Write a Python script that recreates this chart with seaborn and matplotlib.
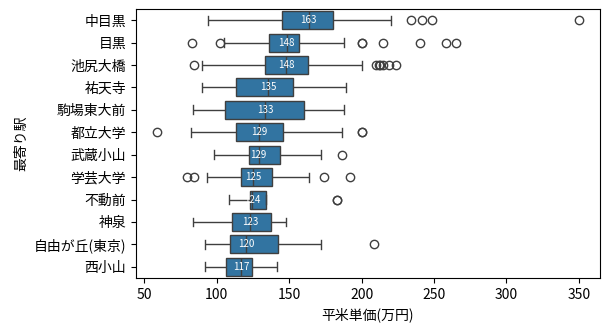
import matplotlib
matplotlib.use("Agg")
import matplotlib.pyplot as plt
import seaborn as sns
import pandas as pd

plt.rcParams['font.family'] = ['Noto Sans CJK JP', 'DejaVu Sans']

stations = ["中目黒", "目黒", "池尻大橋", "祐天寺", "駒場東大前", "都立大学",
            "武蔵小山", "学芸大学", "不動前", "神泉", "自由が丘(東京)", "西小山"]
whisker_lo = [94, 105, 90, 90, 83.4, 82, 97.7, 93.5, 108.7, 83.4, 91.5, 91.5]
q1 = [145, 136, 133, 113.4, 105.3, 113, 122.4, 116.6, 122.6, 110.4, 109.2, 106.5]
median = [163.4, 148.3, 147.9, 135.4, 133.4, 129.4, 128.9, 125.2, 124.2, 123.0, 120.2, 116.8]
q3 = [180, 157, 163.3, 152.3, 159.9, 145.4, 143.3, 138, 133.9, 137.4, 142.2, 124.6]
whisker_hi = [220, 188, 200, 189.2, 187.5, 186.6, 172, 164, 133.9, 147.9, 172, 141.9]
outliers_low = [[], [83, 102], [84], [], [], [58.6], [], [79.3, 84], [], [], [], []]
outliers_high = [[234, 242, 248.6, 350], [200, 200, 214.5, 240.5, 258, 265],
                 [210, 212, 213, 215, 219, 224], [], [], [200, 200.5], [186.4],
                 [173.7, 191.7], [183, 183], [], [208.6], []]

# Build samples whose quartiles / whiskers / outliers reproduce the read values
REP = 20
rows = []
for i, s in enumerate(stations):
    vals = (list(outliers_low[i]) + [whisker_lo[i]] + [q1[i]] * REP + [median[i]] * REP
            + [q3[i]] * REP + [whisker_hi[i]] + list(outliers_high[i]))
    rows += [(s, v) for v in vals]
df = pd.DataFrame(rows, columns=["最寄り駅", "平米単価(万円)"])

fig = plt.figure(figsize=(6.09, 3.33), dpi=100)
ax = fig.add_axes([0.223, 0.165, 0.762, 0.808])
sns.boxplot(data=df, x="平米単価(万円)", y="最寄り駅", order=stations, ax=ax, orient="h")

meds = df.groupby("最寄り駅")["平米単価(万円)"].median()
for i, s in enumerate(stations):
    m = meds[s]
    ax.text(m, i, f"{m:.0f}", ha="center", va="center", color="white", fontsize=7, zorder=10)

ax.set_xticks([50, 100, 150, 200, 250, 300, 350])
fig.savefig("out.png", dpi=100)
